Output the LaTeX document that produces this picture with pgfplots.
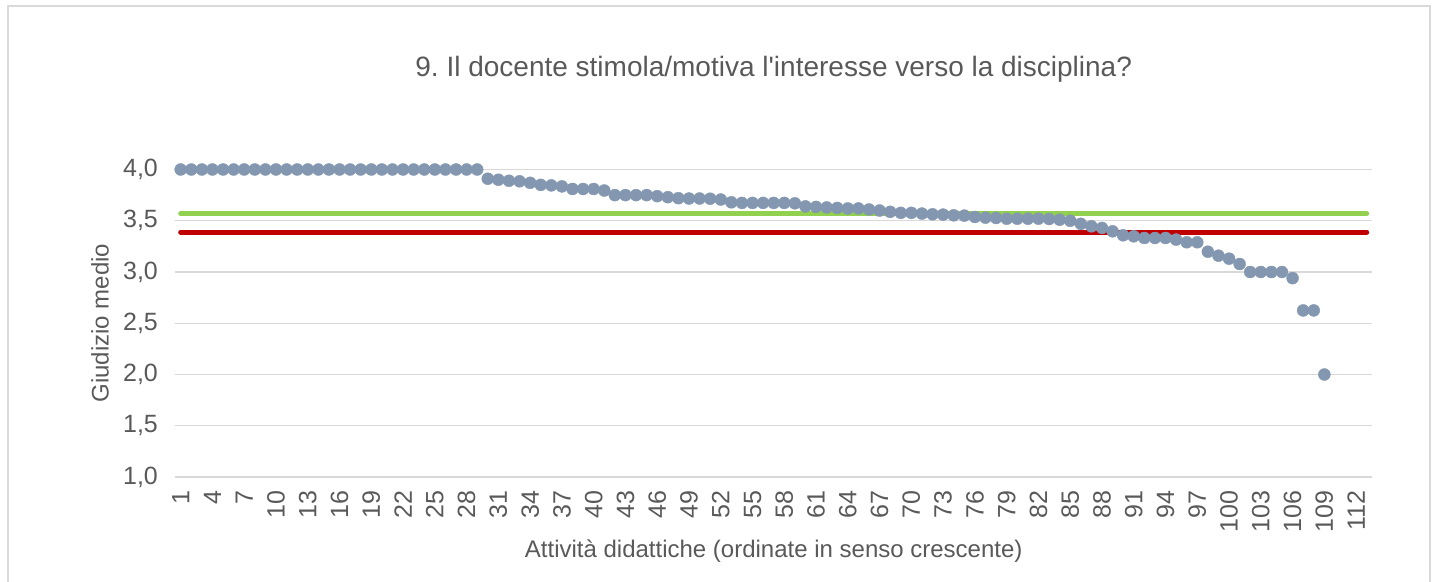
\documentclass[border=0pt]{standalone}
\usepackage{pgfplots}
\pgfplotsset{compat=1.18}
\usepackage{fontspec}
\setmainfont{Liberation Sans}[Ligatures=TeXOff]
\frenchspacing
\definecolor{txt}{HTML}{595959}
\definecolor{gridc}{HTML}{D9D9D9}
\definecolor{pts}{HTML}{8497B0}
\definecolor{greenl}{HTML}{92D050}
\definecolor{redl}{HTML}{C00000}
\begin{document}
\begin{tikzpicture}
\path[use as bounding box] (0pt,0pt) rectangle (1437pt,581pt);
\draw[gridc, line width=1.3pt] (8pt,-20pt) -- (8pt,575pt) -- (1430pt,575pt) -- (1430pt,-20pt);
\begin{axis}[
  at={(175.4pt,104pt)}, anchor=south west,
  scale only axis, width=1196.6pt, height=307.5pt,
  xmin=0.5, xmax=113.5, ymin=1, ymax=4,
  clip=false,
  axis line style={draw=none},
  axis x line*=bottom,
  axis y line*=left,
  ytick={1,1.5,2,2.5,3,3.5,4},
  xtick={1,4,...,112},
  ymajorgrids,
  grid style={gridc, line width=1.3pt},
  major tick length=0pt,
  tick style={draw=none},
  /pgf/number format/.cd, use comma, fixed, fixed zerofill, precision=1, assume math mode=true,
  /pgfplots/.cd,
  yticklabel style={font=\fontsize{25}{28}\selectfont, text=txt, xshift=-14pt},
  xticklabel style={font=\fontsize{25}{28}\selectfont, text=txt, rotate=90, anchor=east, xshift=-10pt,
    /pgf/number format/precision=0, /pgf/number format/fixed zerofill=false},
  title={9. Il docente stimola/motiva l'interesse verso la disciplina?},
  title style={font=\fontsize{28}{32}\selectfont, text=txt, at={(axis description cs:0.5,1.305)}, anchor=center},
  xlabel={Attività didattiche (ordinate in senso crescente)},
  xlabel style={font=\fontsize{24}{27}\selectfont, text=txt, at={(axis description cs:0.5,-0.2407)}, anchor=center},
  ylabel={Giudizio medio},
  ylabel style={font=\fontsize{24}{27}\selectfont, text=txt, at={(axis description cs:-0.063,0.5)}, anchor=center},
]
\draw[gridc, line width=1.3pt] (axis cs:0.5,1) -- (axis cs:113.5,1);
\addplot[greenl, line width=5pt, line cap=round] coordinates {(1,3.57) (113,3.57)};
\addplot[redl, line width=5pt, line cap=round] coordinates {(1,3.39) (113,3.39)};
\addplot[only marks, mark=*, mark size=6pt, pts, mark options={draw=pts, fill=pts}] coordinates {
(1,4.00)(2,4.00)(3,4.00)(4,4.00)(5,4.00)(6,4.00)(7,4.00)(8,4.00)(9,4.00)(10,4.00)
(11,4.00)(12,4.00)(13,4.00)(14,4.00)(15,4.00)(16,4.00)(17,4.00)(18,4.00)(19,4.00)(20,4.00)
(21,4.00)(22,4.00)(23,4.00)(24,4.00)(25,4.00)(26,4.00)(27,4.00)(28,4.00)(29,4.00)
(30,3.91)(31,3.90)(32,3.89)(33,3.885)(34,3.87)(35,3.85)(36,3.845)(37,3.835)(38,3.81)(39,3.81)
(40,3.81)(41,3.795)(42,3.75)(43,3.75)(44,3.75)(45,3.75)(46,3.74)(47,3.73)(48,3.72)(49,3.717)
(50,3.717)(51,3.715)(52,3.707)(53,3.68)(54,3.674)(55,3.674)(56,3.674)(57,3.674)(58,3.674)(59,3.67)
(60,3.64)(61,3.635)(62,3.63)(63,3.625)(64,3.62)(65,3.62)(66,3.61)(67,3.60)(68,3.587)(69,3.577)
(70,3.577)(71,3.57)(72,3.563)(73,3.56)(74,3.553)(75,3.55)(76,3.537)(77,3.53)(78,3.527)(79,3.52)
(80,3.52)(81,3.52)(82,3.52)(83,3.517)(84,3.51)(85,3.50)(86,3.47)(87,3.446)(88,3.43)(89,3.397)
(90,3.358)(91,3.348)(92,3.332)(93,3.332)(94,3.332)(95,3.316)(96,3.29)(97,3.29)(98,3.198)(99,3.159)
(100,3.13)(101,3.078)(102,3.0)(103,3.0)(104,3.0)(105,3.0)(106,2.94)(107,2.625)(108,2.625)(109,2.0)
};
\end{axis}
\end{tikzpicture}
\end{document}
